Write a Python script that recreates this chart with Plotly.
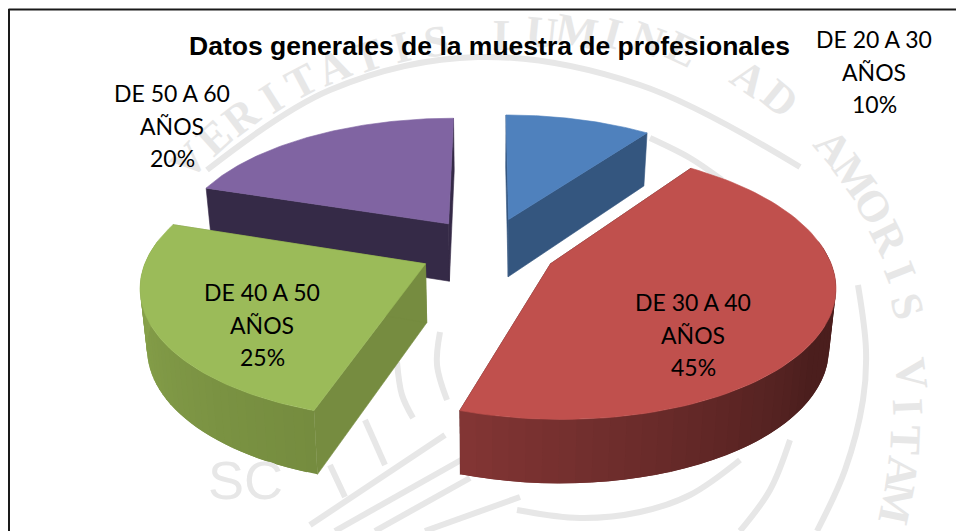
import numpy as np
import plotly.graph_objects as go

# Data
categories = ["DE 20 A 30", "DE 30 A 40", "DE 40 A 50", "DE 50 A 60"]
unit_label = "AÑOS"
percentages = [10, 45, 25, 20]
chart_title = "Datos generales de la muestra de profesionales"
watermark_text = "VERITATIS LUMINE AD AMORIS VITAM"

# Slice styling
top_colors = ["#4f81bd", "#c0504d", "#9bbb59", "#8064a2"]
face_colors = ["#34567f", "#4e1f1e", "#768c40", "#352a47"]
wall_colors = [
    ("#34567f", "#34567f"),
    ("#4b1e1d", "#843635"),
    ("#758c3f", "#8ba64d"),
    ("#352a47", "#352a47"),
]
label_centers = [(874, 39), (693, 302), (262, 292), (172, 93)]

# Strokes of the background seal, traced by eye (page pixels)
seal_strokes = [
    [(207, 170), (330, 90), (478, 57), (640, 85), (800, 167)],
    [(650, 138), (690, 158), (722, 180)],
    [(858, 285), (866, 350), (863, 400), (845, 470), (817, 531)],
    [(790, 440), (770, 490), (740, 531)],
    [(740, 460), (690, 495), (640, 512), (580, 518), (517, 510)],
    [(440, 332), (437, 365), (447, 400)],
    [(397, 362), (402, 395), (413, 418)],
    [(365, 420), (385, 465)],
    [(330, 465), (345, 497)],
    [(310, 525), (445, 435)],
    [(335, 531), (470, 455)],
    [(375, 531), (470, 478)],
    [(425, 531), (520, 497)],
]

# Hand-fitted pie camera (pixels)
CX, CY = 488, 249
RX, RY = 276, 128
PERSP = 0.147
EXPLODE = 0.25
LINE_STEP = 32.5


def project(x, y, bottom=False):
    """Perspective projection of a pie-plane point to page pixels."""
    w = 1 / (1 - PERSP * y)
    sx = CX + RX * x * w
    sy = CY + RY * y * w
    if bottom:
        sx = sx + (CX - sx) * 0.02
        sy = sy + 58.4 + 5.1 * y
    return sx, sy


def mix(c1, c2, t):
    a = [int(c1[i:i + 2], 16) for i in (1, 3, 5)]
    b = [int(c2[i:i + 2], 16) for i in (1, 3, 5)]
    return "rgb(%d,%d,%d)" % tuple(round(p + (q - p) * t) for p, q in zip(a, b))


def poly(points, color, width=0.6):
    xs = [p[0] for p in points] + [points[0][0]]
    ys = [p[1] for p in points] + [points[0][1]]
    return go.Scatter(
        x=xs, y=ys, mode="lines", fill="toself", fillcolor=color,
        line=dict(color=color, width=width), hoverinfo="skip", showlegend=False,
    )


fig = go.Figure()

# Faint seal behind the chart
seal_color = "#e7e7e7"
for stroke in seal_strokes:
    fig.add_trace(go.Scatter(
        x=[p[0] for p in stroke], y=[p[1] for p in stroke], mode="lines",
        line=dict(color=seal_color, width=6, shape="spline"),
        hoverinfo="skip", showlegend=False,
    ))

# annotations always sit above traces, so the seal letters must stay clear of the pie
annotations = []
letter_angles = -47 + 4.8 * np.arange(len(watermark_text))
for ch, deg in zip(watermark_text, letter_angles):
    if ch == " ":
        continue
    t = np.radians(deg)
    # the seal is not quite round in the picture: it bulges to the upper right
    bulge = 1 + 0.09 * max(0, np.sin(2 * t))
    rx_seal = 425 if deg < 0 else 405
    annotations.append(dict(
        x=500 + rx_seal * bulge * np.sin(t), y=425 - 388 * bulge * np.cos(t),
        text=f"<b>{ch}</b>", textangle=deg,
        showarrow=False, xref="x", yref="y",
        font=dict(family="Liberation Serif", size=44, color=seal_color),
    ))
annotations.append(dict(
    x=245, y=480, text="SC", showarrow=False, xref="x", yref="y",
    font=dict(family="Liberation Sans", size=54, color=seal_color),
))

# Slices, back to front
edges = np.concatenate([[0], np.cumsum(percentages)]) * 3.6
for i in [0, 3, 2, 1]:
    a0, a1 = edges[i], edges[i + 1]
    mid = np.radians((a0 + a1) / 2)
    ox, oy = EXPLODE * np.sin(mid), -EXPLODE * np.cos(mid)

    def rim(deg):
        t = np.radians(deg)
        return ox + np.sin(t), oy - np.cos(t)

    # radial cut faces
    for edge in (a0, a1):
        rx_, ry_ = rim(edge)
        fig.add_trace(poly([
            project(ox, oy), project(rx_, ry_),
            project(rx_, ry_, True), project(ox, oy, True),
        ], face_colors[i]))

    # outer wall as overlapping strips, so it can carry a gradient without seams
    lo, hi = max(a0, 80), min(a1, 280)
    if hi > lo:
        steps = np.linspace(lo, hi, 41)
        for s0, s1 in zip(steps[:-1], steps[1:]):
            arc = [rim(d) for d in np.linspace(s0, min(s1 + (s1 - s0), hi), 4)]
            t = (s0 - lo) / (hi - lo)
            if i == 1:
                t = max(0, (t - 0.35) / 0.65)
            fig.add_trace(poly(
                [project(*p) for p in arc] + [project(*p, True) for p in arc[::-1]],
                mix(wall_colors[i][0], wall_colors[i][1], t), width=0,
            ))

    # top surface
    arc = [rim(d) for d in np.linspace(a0, a1, 90)]
    fig.add_trace(poly([project(ox, oy)] + [project(*p) for p in arc], top_colors[i]))

    # data label, one annotation per line for the wide line spacing
    lx, ly = label_centers[i]
    lines = [categories[i], unit_label, f"{percentages[i]}%"]
    for n, line in enumerate(lines):
        annotations.append(dict(
            x=lx, y=ly + n * LINE_STEP, text=line, showarrow=False, xref="x", yref="y",
            font=dict(family="Lato", size=23, color="#000000"),
        ))

annotations.append(dict(
    x=489, y=46, text=f"<b>{chart_title}</b>", showarrow=False, xref="x", yref="y",
    font=dict(family="Liberation Sans", size=26.5, color="#000000"),
))

fig.update_layout(
    width=956,
    height=531,
    margin=dict(l=0, r=0, t=0, b=0),
    paper_bgcolor="#ffffff",
    plot_bgcolor="#ffffff",
    showlegend=False,
    annotations=annotations,
    xaxis=dict(range=[0, 956], visible=False, fixedrange=True),
    yaxis=dict(range=[531, 0], visible=False, fixedrange=True),
    shapes=[
        dict(type="line", xref="x", yref="y", x0=8.5, y0=9.5, x1=956, y1=9.5,
             line=dict(color="#1a1a1a", width=2)),
        dict(type="line", xref="x", yref="y", x0=9, y0=9, x1=9, y1=531,
             line=dict(color="#1a1a1a", width=2)),
    ],
)

# the page keeps the browser's default 8px body margin otherwise
fig.write_html("out.html", config=dict(displayModeBar=False),
               post_script="document.body.style.margin='0';")
